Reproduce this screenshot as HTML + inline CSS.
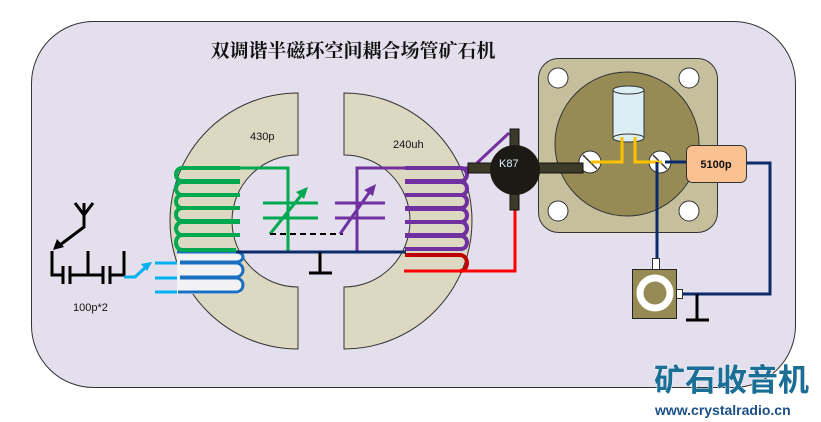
<!DOCTYPE html>
<html><head><meta charset="utf-8"><style>
html,body{margin:0;padding:0;background:#fff;}
svg{display:block;}
</style></head><body>
<svg width="821" height="422" viewBox="0 0 821 422" xmlns="http://www.w3.org/2000/svg">
<rect x="31.5" y="21.5" width="764" height="366" rx="62" ry="62" fill="#e4dfec" stroke="#333" stroke-width="1"/>
<text x="353" y="57" text-anchor="middle" font-family="'Liberation Serif','Noto Serif CJK SC',serif" font-size="19" font-weight="bold" fill="#111">双调谐半磁环空间耦合场管矿石机</text>

<!-- toroid halves -->
<path d="M298,93 A128,128 0 1,0 298,349 L298,287 A66,66 0 1,1 298,155 Z" fill="#dcd8c2" stroke="#333" stroke-width="1"/>
<path d="M344,93 A128,128 0 1,1 344,349 L344,287 A66,66 0 1,0 344,155 Z" fill="#dcd8c2" stroke="#333" stroke-width="1"/>
<text x="250" y="140" font-family="'Liberation Sans',sans-serif" font-size="11" fill="#111">430p</text>
<text x="393" y="148" font-family="'Liberation Sans',sans-serif" font-size="11" fill="#111">240uh</text>

<!-- blue coil white area -->
<rect x="177" y="252" width="64" height="42" fill="#f2f2f4"/>
<g stroke="#00b0f0" stroke-width="3">
<line x1="155" y1="263" x2="177" y2="263"/><line x1="155" y1="278" x2="177" y2="278"/><line x1="155" y1="292" x2="177" y2="292"/>
</g>
<path d="M177,252 H236 A7,5 0 0,1 236,262 H180 M180,263 H236 A7,7 0 0,1 236,277 H180 M180,278 H236 A7,7 0 0,1 236,292 H178" fill="none" stroke="#1a70c0" stroke-width="3"/>

<!-- green coil -->
<path d="M240,168 H182 A6,6.5 0 0,0 182,181 H240 M240,182 H182 A6,6.5 0 0,0 182,195 H240 M240,195 H182 A6,6.5 0 0,0 182,208 H240 M240,208 H182 A6,6.5 0 0,0 182,221 H240 M240,222 H182 A6,6.5 0 0,0 182,235 H240 M240,235 H182 A6,7.5 0 0,0 182,250 H236" fill="none" stroke="#00a850" stroke-width="4"/>
<path d="M214,168 H288 V251" fill="none" stroke="#00a850" stroke-width="3"/>
<g stroke="#00a850" stroke-width="3">
<line x1="263" y1="203" x2="318" y2="203"/><line x1="263" y1="218" x2="318" y2="218"/>
<line x1="270" y1="234" x2="303" y2="193"/>
</g>
<polygon points="308,187 296,192 304,199" fill="#00a850"/>
<line x1="270" y1="234" x2="343" y2="234" stroke="#000" stroke-width="2" stroke-dasharray="6,4"/>

<!-- purple -->
<path d="M357,251 V168 H470" fill="none" stroke="#7030a0" stroke-width="3"/>
<g stroke="#7030a0" stroke-width="3">
<line x1="335" y1="203" x2="385" y2="203"/><line x1="335" y1="218" x2="385" y2="218"/>
<line x1="340" y1="234" x2="371" y2="190"/>
<line x1="477" y1="163" x2="509" y2="133"/>
</g>
<polygon points="376,184 364,190 373,196" fill="#7030a0"/>
<path d="M405,182 H461 A6,6.5 0 0,1 461,195 H405 M405,195 H461 A6,6.5 0 0,1 461,208 H405 M405,209 H461 A6,6.5 0 0,1 461,222 H405 M405,222 H461 A6,6.5 0 0,1 461,235 H405 M405,236 H461 A6,6.5 0 0,1 461,249 H405 M405,168 H461 A6,6.5 0 0,1 461,181 H405" fill="none" stroke="#7030a0" stroke-width="4"/>
<!-- red -->
<path d="M405,255 H460 A7,8 0 0,1 460,271" fill="none" stroke="#c00000" stroke-width="4"/>
<path d="M404,271 H515 V205" fill="none" stroke="#ff0000" stroke-width="3"/>

<!-- ground line -->
<line x1="236" y1="252" x2="406" y2="252" stroke="#0a2a6a" stroke-width="3"/>
<line x1="320" y1="252" x2="320" y2="273" stroke="#000" stroke-width="3"/>
<line x1="309" y1="273" x2="332" y2="273" stroke="#000" stroke-width="3"/>

<!-- antenna & caps -->
<g stroke="#000" stroke-width="3" fill="none">
<path d="M75,203 L84,215 L93,203 M84,203 V227 L60,245"/>
<path d="M52,251 V275 H63 M70,275 H88 V251 M88,275 H103 M110,275 H124 V251"/>
<path d="M63,266 V284 M70,266 V284 M103,266 V284 M110,266 V284"/>
</g>
<polygon points="53,250 57,239 64,247" fill="#000"/>
<path d="M124,277 H135 L147,266" fill="none" stroke="#00b0f0" stroke-width="3"/>
<polygon points="152,262 141,264 147,271" fill="#00b0f0"/>
<text x="73" y="311" font-family="'Liberation Sans',sans-serif" font-size="11" fill="#111">100p*2</text>

<!-- detector mount -->
<rect x="538.5" y="58.5" width="179" height="174" rx="20" fill="#c5bf9c" stroke="#333"/>
<circle cx="627" cy="144" r="72" fill="#968b55" stroke="#333"/>
<g fill="#fff" stroke="#333"><circle cx="558" cy="78" r="10"/><circle cx="689" cy="78" r="10"/><circle cx="558" cy="211" r="10"/><circle cx="689" cy="211" r="10"/></g>
<rect x="613" y="90" width="31" height="48" fill="#daeef3" stroke="#333"/>
<ellipse cx="628.5" cy="90" rx="15.5" ry="4" fill="#daeef3" stroke="#333"/>
<ellipse cx="628.5" cy="138" rx="15.5" ry="4" fill="#daeef3" stroke="#333"/>
<g fill="#fff" stroke="#333"><circle cx="590" cy="162" r="11"/><circle cx="660" cy="162" r="11"/></g>
<g stroke="#333" stroke-width="1.5"><line x1="583" y1="155" x2="597" y2="169"/><line x1="653" y1="155" x2="667" y2="169"/></g>
<path d="M622,137 V162 H591 M635,137 V162 H662" fill="none" stroke="#ffc000" stroke-width="3"/>

<!-- K87 -->
<g fill="#3c3a28" stroke="#111" stroke-width="1">
<rect x="468" y="163" width="25" height="10"/><rect x="538" y="163" width="45" height="10"/>
<rect x="510" y="129" width="9" height="20"/><rect x="510" y="192" width="9" height="18"/>
</g>
<circle cx="515" cy="170" r="25" fill="#1c1a14"/>
<text x="499" y="167" font-family="'Liberation Sans',sans-serif" font-size="11" fill="#e0f0ff">K87</text>

<!-- navy wiring -->
<path d="M657,162 V262 M665,162 H690 M745,163 H770 V294 H680" fill="none" stroke="#0a2a6a" stroke-width="3"/>
<rect x="686.5" y="145.5" width="60" height="37" rx="6" fill="#f9c090" stroke="#333"/>
<text x="716" y="168" text-anchor="middle" font-family="'Liberation Sans',sans-serif" font-size="11" font-weight="bold" fill="#111">5100p</text>
<!-- jack -->
<rect x="652.5" y="258.5" width="7" height="11" fill="#fff" stroke="#333"/>
<rect x="676.5" y="289.5" width="6" height="9" fill="#fff" stroke="#333"/>
<rect x="632.5" y="269.5" width="44" height="49" fill="#968b55" stroke="#222"/>
<circle cx="655" cy="293" r="15" fill="none" stroke="#fff" stroke-width="7"/>
<line x1="697" y1="294" x2="697" y2="320" stroke="#000" stroke-width="3"/>
<line x1="686" y1="320" x2="709" y2="320" stroke="#000" stroke-width="3"/>

<!-- logo -->
<text x="654" y="391" font-family="'Liberation Sans','Noto Sans CJK SC',sans-serif" font-size="31" font-weight="bold" fill="#1b6f96" stroke="#fff" stroke-width="1" paint-order="stroke">矿石收音机</text>
<text x="655" y="415" font-family="'Liberation Sans',sans-serif" font-size="14" font-weight="bold" fill="#1b4f86">www.crystalradio.cn</text>
</svg>
</body></html>
